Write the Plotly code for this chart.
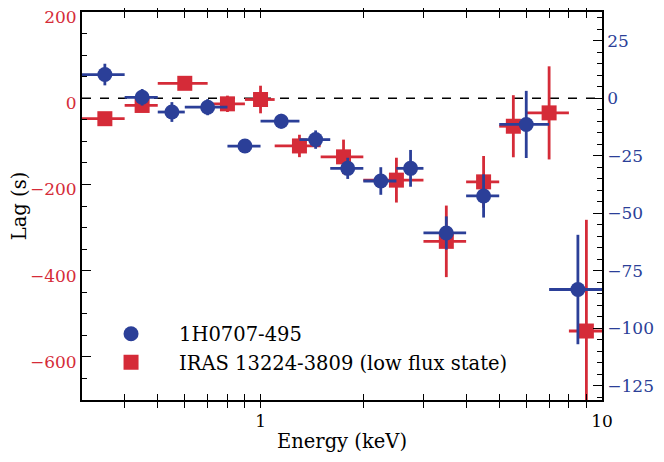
import numpy as np
import plotly.graph_objects as go

# 1H0707-495 (right axis)
blue_E = [0.35, 0.45, 0.55, 0.70, 0.90, 1.15, 1.45, 1.80, 2.25, 2.75, 3.5, 4.5, 6.0, 8.5]
blue_lo = [0.3, 0.4, 0.5, 0.6, 0.8, 1.0, 1.3, 1.6, 2.0, 2.5, 3.0, 4.0, 5.0, 7.0]
blue_hi = [0.4, 0.5, 0.6, 0.8, 1.0, 1.3, 1.6, 2.0, 2.5, 3.0, 4.0, 5.0, 7.0, 10.0]
blue_lag = [10.3, 0.4, -6.0, -3.9, -20.8, -10.0, -18.0, -30.5, -36.0, -30.5, -58.6, -42.5, -11.4, -83.2]
blue_err = [4.7, 3.6, 4.3, 3.5, 1.5, 3.2, 4.0, 4.6, 6.0, 8.0, 7.2, 9.4, 14.6, 23.8]

# IRAS 13224-3809 low flux (left axis)
red_E = [0.35, 0.45, 0.60, 0.80, 1.0, 1.3, 1.75, 2.5, 3.5, 4.5, 5.5, 7.0, 9.0]
red_lo = [0.3, 0.4, 0.5, 0.7, 0.9, 1.1, 1.5, 2.0, 3.0, 4.0, 5.0, 6.0, 8.0]
red_hi = [0.4, 0.5, 0.7, 0.9, 1.1, 1.5, 2.0, 3.0, 4.0, 5.0, 6.0, 8.0, 10.0]
red_lag = [-47.5, -16.8, 34.6, -13, -3, -110.7, -136, -190, -332, -194, -65, -34, -540]
red_err = [8, 15, 8, 19, 32, 26, 40, 52, 83, 60, 72, 108, 258]

x_ticks = [0.3, 0.4, 0.5, 0.6, 0.7, 0.8, 0.9, 1, 2, 3, 4, 5, 6, 7, 8, 9, 10]
x_text = ["" if v not in (1, 10) else str(v) for v in x_ticks]

BLUE = "#2b3f98"
RED = "#d52b38"
FONT = "DejaVu Serif"

fig = go.Figure()

fig.add_trace(go.Scatter(
    x=red_E, y=red_lag, mode="markers", name="IRAS 13224-3809 (low flux state)",
    marker=dict(symbol="square", size=15, color=RED),
    error_x=dict(type="data", symmetric=False,
                 array=list(np.array(red_hi) - np.array(red_E)),
                 arrayminus=list(np.array(red_E) - np.array(red_lo)),
                 color=RED, thickness=2.8, width=0),
    error_y=dict(type="data", array=red_err, color=RED, thickness=2.8, width=0),
    yaxis="y", legendrank=2,
))

fig.add_trace(go.Scatter(
    x=blue_E, y=blue_lag, mode="markers", name="1H0707-495",
    marker=dict(symbol="circle", size=15, color=BLUE),
    error_x=dict(type="data", symmetric=False,
                 array=list(np.array(blue_hi) - np.array(blue_E)),
                 arrayminus=list(np.array(blue_E) - np.array(blue_lo)),
                 color=BLUE, thickness=2.8, width=0),
    error_y=dict(type="data", array=blue_err, color=BLUE, thickness=2.8, width=0),
    yaxis="y2", legendrank=1,
))

fig.add_shape(type="line", xref="paper", x0=0, x1=1, yref="y", y0=0, y1=0,
              line=dict(color="black", width=1.5, dash="dash"), layer="below")

fig.update_layout(
    width=664, height=462,
    margin=dict(l=74, r=70, t=4, b=70, autoexpand=False),
    paper_bgcolor="white", plot_bgcolor="white",
    font=dict(family=FONT, size=17, color="black"),
    showlegend=True,
    legend=dict(x=0.002, y=0.22, xanchor="left", yanchor="top",
                bgcolor="rgba(0,0,0,0)", font=dict(size=19.5, family=FONT),
                itemwidth=86, tracegroupgap=0),
    xaxis=dict(type="log", range=[np.log10(0.3), 1],
               tickvals=x_ticks, ticktext=x_text,
               ticks="inside", ticklen=6, tickwidth=1.2, tickcolor="black",
               showline=True, linecolor="black", linewidth=1.8, mirror="allticks",
               showgrid=False, zeroline=False, automargin=False,
               ticklabelstandoff=5,
               title=dict(text="Energy (keV)", font=dict(size=19.5, family=FONT), standoff=4),
               tickfont=dict(size=17, family=FONT)),
    yaxis=dict(range=[-700, 200], tickvals=[-600, -400, -200, 0, 200],
               ticks="inside", ticklen=9, tickwidth=1.2, tickcolor="black",
               minor=dict(dtick=50, ticks="inside", ticklen=5, tickcolor="black", tickwidth=1.2),
               showline=True, linecolor="black", linewidth=1.8,
               showgrid=False, zeroline=False, automargin=False,
               ticklabeloverflow="allow", ticklabelshift=5,
               tickfont=dict(color=RED, size=17, family=FONT),
               title=dict(text="Lag (s)", font=dict(size=19.5, family=FONT), standoff=2)),
    yaxis2=dict(range=[-131.25, 37.5], overlaying="y", side="right",
                tickvals=[-125, -100, -75, -50, -25, 0, 25],
                ticks="inside", ticklen=9, tickwidth=1.2, tickcolor="black",
                minor=dict(dtick=5, ticks="inside", ticklen=5, tickcolor="black", tickwidth=1.2),
                showline=True, linecolor="black", linewidth=1.8,
                showgrid=False, zeroline=False, automargin=False,
                ticklabeloverflow="allow",
                tickfont=dict(color=BLUE, size=17, family=FONT)),
)

fig.write_html("out.html")
